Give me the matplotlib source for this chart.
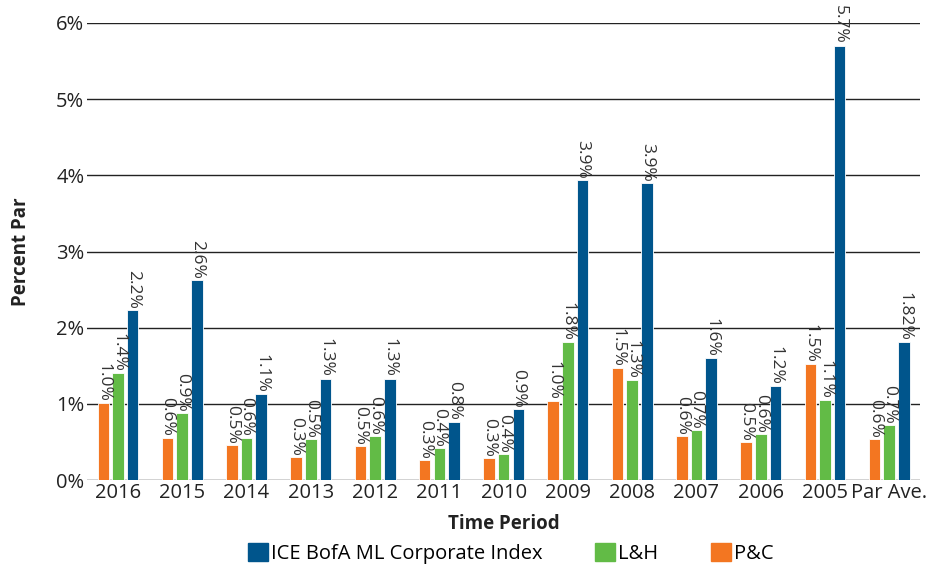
import numpy as np
import matplotlib
matplotlib.use("Agg")
import matplotlib.pyplot as plt
from matplotlib.patches import Patch

plt.rcParams['font.family'] = ['Open Sans', 'DejaVu Sans']

periods = ['2016', '2015', '2014', '2013', '2012', '2011', '2010',
           '2009', '2008', '2007', '2006', '2005', 'Par Ave.']
pc = [1.01, 0.56, 0.46, 0.30, 0.45, 0.26, 0.29, 1.04, 1.47, 0.58, 0.50, 1.52, 0.54]
lh = [1.40, 0.88, 0.56, 0.54, 0.58, 0.42, 0.34, 1.81, 1.31, 0.66, 0.60, 1.05, 0.72]
ice = [2.23, 2.62, 1.13, 1.33, 1.33, 0.77, 0.93, 3.94, 3.90, 1.60, 1.23, 5.70, 1.81]
pc_labels = ['1.0%', '0.6%', '0.5%', '0.3%', '0.5%', '0.3%', '0.3%',
             '1.0%', '1.5%', '0.6%', '0.5%', '1.5%', '0.6%']
lh_labels = ['1.4%', '0.9%', '0.6%', '0.5%', '0.6%', '0.4%', '0.4%',
             '1.8%', '1.3%', '0.7%', '0.6%', '1.1%', '0.7%']
ice_labels = ['2.2%', '2.6%', '1.1%', '1.3%', '1.3%', '0.8%', '0.9%',
              '3.9%', '3.9%', '1.6%', '1.2%', '5.7%', '1.82%']

c_ice = '#00558C'
c_lh = '#62BB46'
c_pc = '#F37621'

fig = plt.figure(figsize=(9.37, 5.71), dpi=100)
ax = fig.add_axes([0.093, 0.159, 0.889, 0.801])

x = np.arange(len(periods))
w = 0.18
step = 0.228
series = [(pc, pc_labels, c_pc, -step), (lh, lh_labels, c_lh, 0), (ice, ice_labels, c_ice, step)]
for vals, labs, col, off in series:
    bars = ax.bar(x + off, vals, width=w, color=col, edgecolor='white', linewidth=0.6, zorder=3)
    for b, lab in zip(bars, labs):
        ax.text(b.get_x() + b.get_width() / 2, b.get_height() + 0.02, lab,
                rotation=270, ha='center', va='bottom', fontsize=12.5,
                color='#333333', clip_on=False, zorder=4)

ax.set_ylim(0, 6)
ax.set_xlim(-0.48, len(periods) - 0.52)
ax.set_yticks(range(7))
ax.set_yticklabels([f'{i}%' for i in range(7)], fontsize=14.5, color='#222222')
ax.set_xticks(x)
ax.set_xticklabels(periods, fontsize=14.5, color='#222222')
ax.tick_params(length=0, pad=2)
ax.yaxis.grid(True, color='#222222', linewidth=1.0, zorder=0)
for s in ax.spines.values():
    s.set_visible(False)

ax.set_ylabel('Percent Par', fontsize=13.5, fontweight='bold', color='#222222', labelpad=18)
ax.set_xlabel('Time Period', fontsize=13.5, fontweight='bold', color='#222222', labelpad=8)

handles = [Patch(color=c_ice, label='ICE BofA ML Corporate Index'),
           Patch(color=c_lh, label='L&H'),
           Patch(color=c_pc, label='P&C')]
fig.legend(handles=handles, loc='center', bbox_to_anchor=(0.545, 0.03), ncol=3,
           frameon=False, fontsize=14.5, handlelength=1.0, handleheight=1.0,
           handletextpad=0.15, columnspacing=2.6)

fig.savefig('out.png', dpi=100)
